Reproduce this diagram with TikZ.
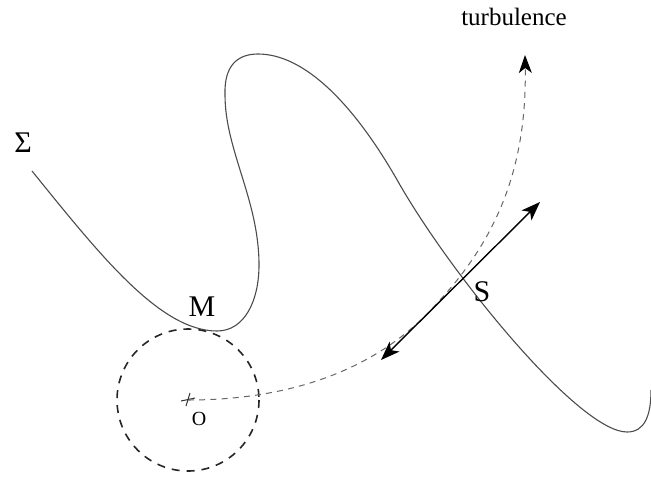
\documentclass[tikz,border=0pt]{standalone}
\usepackage{fontspec}
\setmainfont{Liberation Serif}
\usetikzlibrary{arrows.meta}
\tikzset{
  surface/.style={line width=0.55pt, draw=black!70},
  circ/.style={line width=0.8pt, draw=black!85, dash pattern=on 4pt off 3.5pt},
  traj/.style={line width=0.5pt, draw=black!60, dash pattern=on 3pt off 2.6pt},
  dbl/.style={line width=0.7pt, draw=black, {Stealth[length=9.5pt,width=7pt,inset=2.5pt]}-{Stealth[length=9.5pt,width=7pt,inset=2.5pt]}},
  bigl/.style={font=\fontsize{15}{18}\selectfont, inner sep=0pt},
  smalll/.style={font=\fontsize{12.5}{15}\selectfont, inner sep=0pt},
  tinyl/.style={font=\fontsize{10}{12}\selectfont, inner sep=0pt}
}
\begin{document}
\begin{tikzpicture}[x=0.5pt,y=-0.5pt]
\useasboundingbox (0,0) rectangle (651,477);
% surface Sigma
\coordinate (c0) at (32,171);
\coordinate (M) at (217,331);
\coordinate (c2) at (259,265);
\coordinate (c3) at (225,95);
\coordinate (top) at (258,54);
\coordinate (c5) at (400,185);
\coordinate (bot) at (627,432);
\coordinate (cend) at (651,390);
\draw[surface] (c0) .. controls (100,255) and (160,331) .. (M)
  .. controls (245,331) and (259,300) .. (c2)
  .. controls (259,200) and (225,150) .. (c3)
  .. controls (224,65) and (238,54) .. (top)
  .. controls (305,54) and (355,105) .. (c5)
  .. controls (455,280) and (580,432) .. (bot)
  .. controls (645,432) and (651,415) .. (cend);
% circle
\coordinate (O) at (188,400);
\draw[circ] (O) circle [radius=71];
% cross at O
\draw[line width=0.5pt, black!80] (181,401) -- (195,398);
\draw[line width=0.5pt, black!80] (186,406) -- (190,393);
% trajectory
\coordinate (mid) at (440,300);
\coordinate (turb) at (525,55);
\draw[traj] (O) .. controls (290,400) and (380,370) .. (mid);
\draw[traj, -{Stealth[length=9pt,width=6.5pt,inset=2.5pt,color=black]}] (mid) .. controls (495,240) and (527,170) .. (turb);
% double arrow through S
\coordinate (a1) at (381,360);
\coordinate (a2) at (540,202);
\draw[dbl] (a1) -- (a2);
% labels
\node[bigl] (sig) at (23,143) {Σ};
\node[bigl] (ml) at (202,307) {M};
\node[bigl] (sl) at (482,292) {S};
\node[tinyl] (ol) at (199,419) {O};
\node[smalll] (tl) at (514,17) {turbulence};
\end{tikzpicture}
\end{document}
